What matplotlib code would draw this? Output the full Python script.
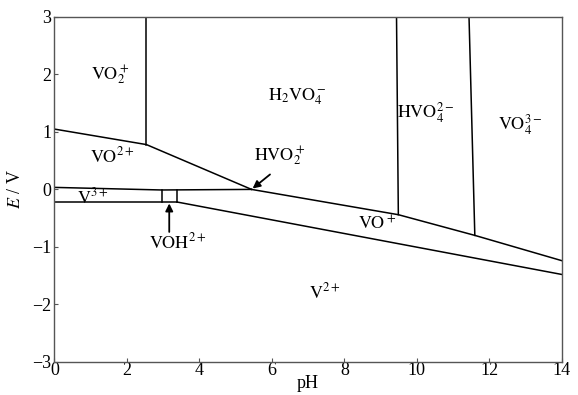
import matplotlib
matplotlib.use('Agg')
import matplotlib.pyplot as plt

plt.rcParams['font.family'] = ['Liberation Serif', 'DejaVu Serif']
plt.rcParams['mathtext.fontset'] = 'stix'

# Boundary lines (pH, E in V)
upper_ph = [0, 2.54, 5.44]
upper_E = [1.05, 0.78, 0.0]
vo2_v3_ph = [0, 2.96, 5.44]
vo2_v3_E = [0.035, -0.01, 0.0]
v3_ph = [0, 3.39]
v3_E = [-0.22, -0.22]
v2_ph = [3.39, 14]
v2_E = [-0.22, -1.48]
vo_ph = [5.44, 9.49, 11.6, 14]
vo_E = [0.0, -0.44, -0.80, -1.24]

# vertical boundaries: (pH top, pH bottom, E top, E bottom)
verticals = [
    (2.54, 2.54, 3.0, 0.78),
    (9.44, 9.49, 3.0, -0.44),
    (11.44, 11.6, 3.0, -0.80),
    (2.96, 2.96, -0.01, -0.22),
    (3.39, 3.39, -0.01, -0.22),
]

# Region labels
labels = [r'$\mathrm{VO_2^+}$', r'$\mathrm{H_2VO_4^-}$', r'$\mathrm{HVO_4^{2-}}$',
          r'$\mathrm{VO_4^{3-}}$', r'$\mathrm{VO^{2+}}$', r'$\mathrm{V^{3+}}$',
          r'$\mathrm{VO^+}$', r'$\mathrm{V^{2+}}$',
          r'$\mathrm{HVO_2^+}$', r'$\mathrm{VOH^{2+}}$']
label_ph = [1.55, 6.7, 10.25, 12.85, 1.6, 1.05, 8.9, 7.45, 6.2, 3.4]
label_E = [1.98, 1.62, 1.33, 1.13, 0.57, -0.14, -0.6, -1.8, 0.58, -0.93]

# Pointer arrows: (tail pH, tail E, head pH, head E)
pointers = [(5.95, 0.26, 5.44, 0.0), (3.17, -0.74, 3.17, -0.22)]

fig = plt.figure(figsize=(5.78, 3.95), dpi=100)
ax = fig.add_axes([0.094, 0.084, 0.878, 0.873])

lw = 1.1
ax.plot(upper_ph, upper_E, 'k-', lw=lw)
ax.plot(vo2_v3_ph, vo2_v3_E, 'k-', lw=lw)
ax.plot(v3_ph, v3_E, 'k-', lw=lw)
ax.plot(v2_ph, v2_E, 'k-', lw=lw)
ax.plot(vo_ph, vo_E, 'k-', lw=lw)
for p0, p1, e0, e1 in verticals:
    ax.plot([p0, p1], [e0, e1], 'k-', lw=lw)

for t, x, y in zip(labels, label_ph, label_E):
    ax.text(x, y, t, fontsize=13, ha='center', va='center')

arrow = dict(arrowstyle='-|>', color='k', lw=1.3, mutation_scale=11,
             shrinkA=0, shrinkB=1)
for x0, y0, x1, y1 in pointers:
    ax.annotate('', xy=(x1, y1), xytext=(x0, y0), arrowprops=arrow)

ax.set_xlim(0, 14)
ax.set_ylim(-3, 3)
ax.set_xticks(range(0, 15, 2))
ax.set_yticks(range(-3, 4))
ax.tick_params(direction='in', length=3, labelsize=13, top=False, right=False,
               color='#555555')
ax.tick_params(axis='x', pad=0)
ax.tick_params(axis='y', pad=2)
for s in ax.spines.values():
    s.set_color('#555555')
    s.set_linewidth(1.0)
ax.set_xlabel('pH', fontsize=13, labelpad=-3)
ax.set_ylabel(r'$E$ / V', fontsize=13, labelpad=6)

plt.savefig('out.png', dpi=100)
